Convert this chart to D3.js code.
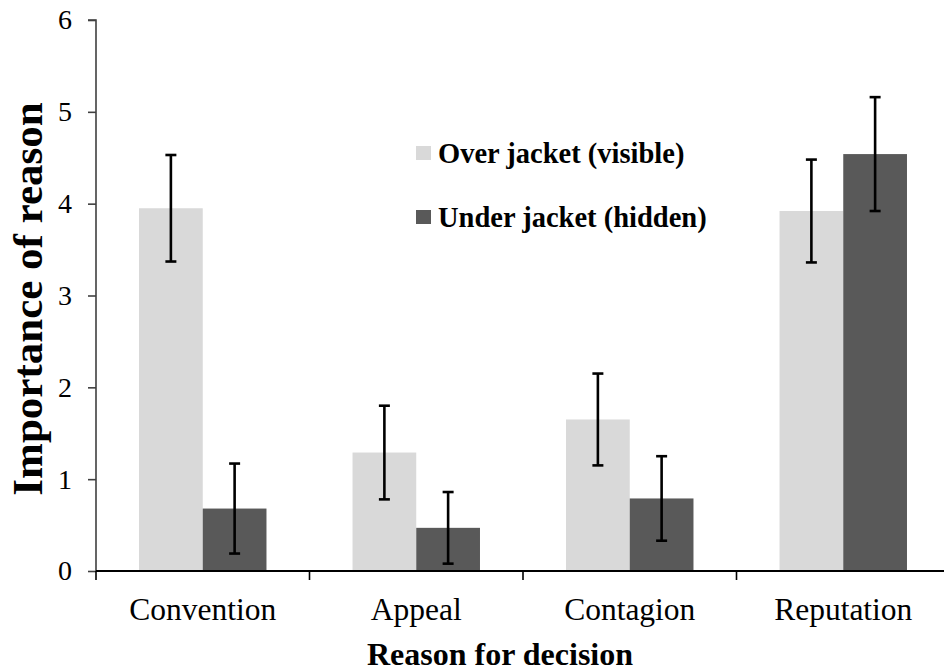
<!DOCTYPE html>
<html>
<head>
<meta charset="utf-8">
<script src="https://cdn.jsdelivr.net/npm/d3@7"></script>
<style>
  html, body { margin: 0; padding: 0; background: #fff; }
  svg { display: block; font-family: "Liberation Serif", "Times New Roman", serif; }
</style>
</head>
<body>
<svg width="944" height="671"></svg>
<script>
// data
const categories = ["Convention", "Appeal", "Contagion", "Reputation"];
const seriesNames = ["Over jacket (visible)", "Under jacket (hidden)"];
const overValues = [3.95, 1.29, 1.65, 3.92];
const overErrors = [0.58, 0.51, 0.50, 0.56];
const underValues = [0.68, 0.47, 0.79, 4.54];
const underErrors = [0.49, 0.39, 0.46, 0.62];
const yTicks = [0, 1, 2, 3, 4, 5, 6];

const colors = ["#d9d9d9", "#595959"];

const rows = categories.map((c, i) => ({
  category: c,
  bars: [
    {series: seriesNames[0], value: overValues[i], err: overErrors[i]},
    {series: seriesNames[1], value: underValues[i], err: underErrors[i]}
  ]
}));

const svg = d3.select("svg");

const y = d3.scaleLinear().domain([0, 6]).range([571, 20]);
const x = d3.scaleBand().domain(categories).range([96, 950])
  .paddingInner(0.403).paddingOuter(0.2015);
const xs = d3.scaleBand().domain(seriesNames).range([0, x.bandwidth()]);
const color = d3.scaleOrdinal().domain(seriesNames).range(colors);

// bars
const groups = svg.append("g").selectAll("g")
  .data(rows)
  .enter().append("g")
    .attr("transform", d => "translate(" + x(d.category) + ",0)");

groups.selectAll("rect")
  .data(d => d.bars)
  .enter().append("rect")
    .attr("x", d => xs(d.series))
    .attr("y", d => y(d.value))
    .attr("width", xs.bandwidth())
    .attr("height", d => y(0) - y(d.value))
    .attr("fill", d => color(d.series));

// error bars
const errs = groups.selectAll("g.err")
  .data(d => d.bars)
  .enter().append("g")
    .attr("class", "err")
    .attr("stroke", "#000")
    .attr("stroke-width", 2.6);

const cx = d => xs(d.series) + xs.bandwidth() / 2;
errs.append("line")
  .attr("x1", cx).attr("x2", cx)
  .attr("y1", d => y(d.value - d.err))
  .attr("y2", d => y(d.value + d.err));
errs.append("line")
  .attr("x1", d => cx(d) - 5.5).attr("x2", d => cx(d) + 5.5)
  .attr("y1", d => y(d.value + d.err)).attr("y2", d => y(d.value + d.err));
errs.append("line")
  .attr("x1", d => cx(d) - 5.5).attr("x2", d => cx(d) + 5.5)
  .attr("y1", d => y(d.value - d.err)).attr("y2", d => y(d.value - d.err));

// y axis
const yAxis = svg.append("g")
  .attr("transform", "translate(96,0)")
  .call(d3.axisLeft(y).tickValues(yTicks).tickFormat(d3.format("d")).tickSize(8).tickPadding(16));
yAxis.select(".domain").attr("stroke", "#404040").attr("stroke-width", 1.6)
  .attr("d", "M-8," + y(6) + "H0V" + y(0));
yAxis.selectAll(".tick line").attr("stroke", "#404040").attr("stroke-width", 1.6);
yAxis.selectAll(".tick text")
  .attr("font-family", "Liberation Serif")
  .attr("font-size", 28)
  .attr("fill", "#000");

// x axis: labels at centres, ticks at boundaries
const xAxis = svg.append("g")
  .attr("transform", "translate(0," + y(0) + ")")
  .call(d3.axisBottom(x).tickSize(0).tickPadding(27));
xAxis.select(".domain").attr("stroke", "#000").attr("stroke-width", 2.2)
  .attr("d", "M96,0H950");
xAxis.selectAll(".tick text")
  .attr("font-family", "Liberation Serif")
  .attr("font-size", 31.5)
  .attr("fill", "#000");

const gap = (x.step() - x.bandwidth()) / 2;
const bounds = categories.map(c => x(c) - gap).concat([x(categories[3]) + x.bandwidth() + gap]);
xAxis.selectAll("line.bound")
  .data(bounds)
  .enter().append("line")
    .attr("class", "bound")
    .attr("x1", d => d).attr("x2", d => d)
    .attr("y1", 0).attr("y2", 9)
    .attr("stroke", "#000").attr("stroke-width", 1.6);

// axis titles
svg.append("text")
  .attr("x", 500).attr("y", 665)
  .attr("text-anchor", "middle")
  .attr("font-size", 32).attr("font-weight", "bold")
  .text("Reason for decision");

svg.append("text")
  .attr("transform", "translate(42,299) rotate(-90)")
  .attr("text-anchor", "middle")
  .attr("font-size", 43).attr("font-weight", "bold")
  .text("Importance of reason");

// legend
const legend = svg.append("g").selectAll("g")
  .data(seriesNames)
  .enter().append("g")
    .attr("transform", (d, i) => "translate(416," + (153 + i * 64) + ")");
legend.append("rect")
  .attr("x", 0).attr("y", -7).attr("width", 15).attr("height", 14)
  .attr("fill", d => color(d));
legend.append("text")
  .attr("x", 22).attr("y", 10)
  .attr("font-size", 28.5).attr("font-weight", "bold")
  .text(d => d);
</script>
</body>
</html>
